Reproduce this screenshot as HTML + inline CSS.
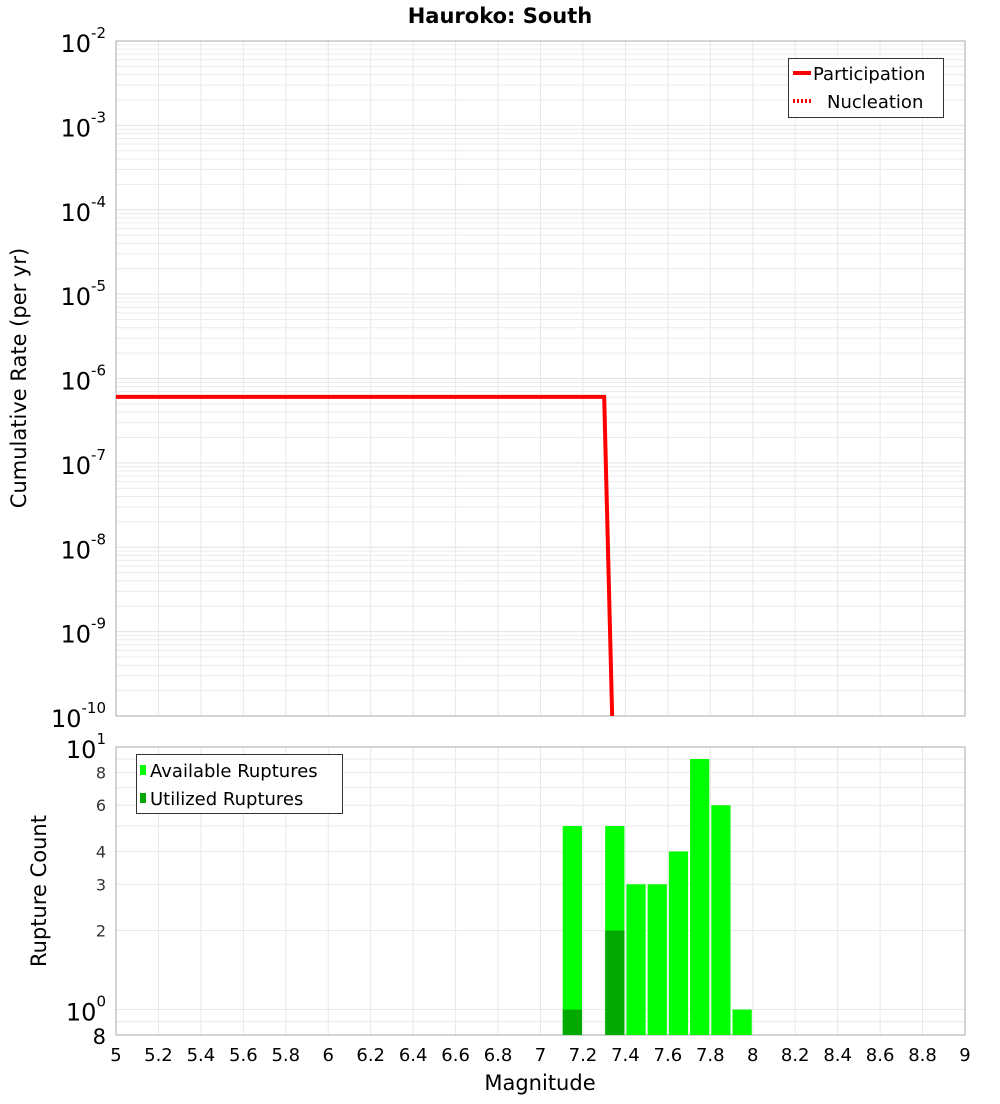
<!DOCTYPE html>
<html><head><meta charset="utf-8"><style>
body{margin:0;background:#fff;font-family:"DejaVu Sans","Liberation Sans",sans-serif}
svg text{font-family:"DejaVu Sans","Liberation Sans",sans-serif}
</style></head><body>
<svg id="chart" width="1000" height="1100" xmlns="http://www.w3.org/2000/svg">
<text x="500" y="23" text-anchor="middle" font-size="21" font-weight="bold">Hauroko: South</text>
<g id="top"></g><g id="bot"></g>
<text transform="translate(26,378) rotate(-90)" text-anchor="middle" font-size="21">Cumulative Rate (per yr)</text>
<text transform="translate(46,891) rotate(-90)" text-anchor="middle" font-size="21">Rupture Count</text>
<text x="540" y="1090" text-anchor="middle" font-size="21">Magnitude</text>
</svg>
<script>
const rateMags=[5,7.3,7.35];
const participation=[6.05e-7,6.05e-7,5.6e-12];
const binStarts=[7.1,7.3,7.4,7.5,7.6,7.7,7.8,7.9];
const available=[5,5,3,3,4,9,6,1];
const utilized=[1,2,0,0,0,0,0,0];
const xTicks=[5,5.2,5.4,5.6,5.8,6,6.2,6.4,6.6,6.8,7,7.2,7.4,7.6,7.8,8,8.2,8.4,8.6,8.8,9];
const topDecades=[-2,-3,-4,-5,-6,-7,-8,-9,-10];
const botTicks=[2,3,4,6,8];
const NS="http://www.w3.org/2000/svg";
const L=116,R=965,T1=41,B1=716,T2=747,B2=1035;
const X=m=>L+(m-5)/4*(R-L);
const Y1=v=>T1+(-2-Math.log10(v))/8*(B1-T1);
const Y2=v=>T2+(1-Math.log10(v))/(1-Math.log10(0.8))*(B2-T2);
function mk(p,t,a){const e=document.createElementNS(NS,t);for(const k in a)e.setAttribute(k,a[k]);p.appendChild(e);return e;}
const svg=document.getElementById('chart'),top_=document.getElementById('top'),bot=document.getElementById('bot');
// top grid
for(let d=-10;d<-2;d++){for(let k=1;k<10;k++){const y=Y1(k*Math.pow(10,d));const ln=mk(top_,'line',{x1:L,x2:R,y1:y,y2:y,stroke:k==1?'#e2e2e2':'#ececec','stroke-width':1});

}}
for(const m of xTicks){for(const [g,t,b] of [[top_,T1,B1],[bot,T2,B2]]){const ln=mk(g,'line',{x1:X(m),x2:X(m),y1:t,y2:b,stroke:'#e8e8e8'});

}}
for(const v of [0.9,1,2,3,4,5,6,7,8,9,10]){const ln=mk(bot,'line',{x1:L,x2:R,y1:Y2(v),y2:Y2(v),stroke:'#e8e8e8'});

}
// frames
let f=mk(top_,'rect',{x:L,y:T1,width:R-L,height:B1-T1,fill:'none',stroke:'#aaa'});


f=mk(bot,'rect',{x:L,y:T2,width:R-L,height:B2-T2,fill:'none',stroke:'#aaa'});


// top ticks
for(const d of topDecades){const t=mk(svg,'text',{x:106,y:Y1(Math.pow(10,d))+11,'text-anchor':'end','font-size':24});


t.innerHTML='10<tspan font-size="15" dy="-14">'+d+'</tspan>';}
// clip
const cp=mk(svg,'clipPath',{id:'c1'});mk(cp,'rect',{x:L,y:T1,width:R-L,height:B1-T1});
const pts=rateMags.map((m,i)=>X(m)+','+Y1(participation[i])).join(' ');
let pl=mk(svg,'polyline',{points:pts,fill:'none',stroke:'#f00','stroke-width':4,'clip-path':'url(#c1)'});


// bars
const bw=X(5.1)-X(5);
binStarts.forEach((m,i)=>{const r=mk(bot,'rect',{x:X(m)+1,y:Y2(available[i]),width:bw-2,height:B2-Y2(available[i]),fill:'#00ff00'});


if(utilized[i]>0){const u=mk(bot,'rect',{x:X(m)+1,y:Y2(utilized[i]),width:bw-2,height:B2-Y2(utilized[i]),fill:'#00a800'});

}});
// bottom ticks
for(const v of botTicks){const t=mk(svg,'text',{x:106,y:Y2(v)+6,'text-anchor':'end','font-size':16,fill:'#333'});


t.textContent=v;}
for(const [v,e] of [[10,1],[1,0]]){const t=mk(svg,'text',{x:106,y:Y2(v)+11,'text-anchor':'end','font-size':24});


t.innerHTML='10<tspan font-size="15" dy="-14">'+e+'</tspan>';}
let t8=mk(svg,'text',{x:106,y:B2+9,'text-anchor':'end','font-size':21});


t8.textContent='8';
for(const m of xTicks){const t=mk(svg,'text',{x:X(m),y:1061,'text-anchor':'middle','font-size':18});


t.textContent=String(m);}
</script>
<svg style="position:absolute;left:0;top:0" width="1000" height="1100">
<g>
<rect x="788.5" y="58.5" width="155" height="59" fill="#fff" stroke="#333"/>
<line x1="793" x2="811" y1="73" y2="73" stroke="#f00" stroke-width="4"/>
<text x="813" y="80" font-size="18">Participation</text>
<line x1="793" x2="811" y1="101" y2="101" stroke="#f00" stroke-width="4" stroke-dasharray="2,2"/>
<text x="827" y="108" font-size="18">Nucleation</text>
</g>
<g>
<rect x="136.5" y="754.5" width="206" height="59" fill="#fff" stroke="#333"/>
<rect x="140" y="765" width="6" height="10" fill="#00ff00"/>
<text x="150" y="777" font-size="18">Available Ruptures</text>
<rect x="140" y="793" width="6" height="10" fill="#00a800"/>
<text x="150" y="805" font-size="18">Utilized Ruptures</text>
</g>
</svg>
</body></html>
